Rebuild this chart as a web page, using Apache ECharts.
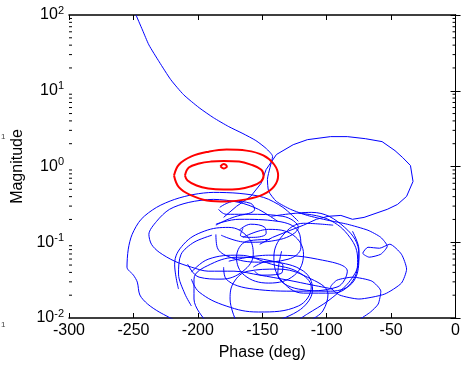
<!DOCTYPE html>
<html><head><meta charset="utf-8">
<script src="https://cdn.jsdelivr.net/npm/echarts@6/dist/echarts.min.js"></script>
<style>html,body{margin:0;padding:0;background:#fff}#c{width:463px;height:366px}</style>
</head><body><div id="c"></div>
<script>
// ---- axis definitions ----
const phaseMin = -300, phaseMax = 0, phaseStep = 50;
const magMin = 0.01, magMax = 100;
const magMinorTicks = [0.02,0.03,0.04,0.05,0.06,0.07,0.08,0.09,
  0.2,0.3,0.4,0.5,0.6,0.7,0.8,0.9, 2,3,4,5,6,7,8,9, 20,30,40,50,60,70,80,90];

// ---- red closed-loop contours [phase deg, magnitude] ----
const redOuter = [[-218.5,0.762],[-214.6,1.062],[-205,1.36],[-191.5,1.57],[-177.7,1.674],[-162.3,1.62],
  [-149.2,1.40],[-140.8,1.062],[-137.7,0.762],[-140.8,0.546],[-149.2,0.428],[-162.3,0.368],
  [-177.7,0.346],[-193,0.357],[-205,0.415],[-214.6,0.530],[-218.5,0.762]];
const redInner = [[-210,0.762],[-207,0.970],[-199,1.094],[-190,1.16],[-180,1.18],[-168,1.16],
  [-159,1.06],[-151,0.913],[-149,0.762],[-151,0.635],[-159,0.546],[-168,0.506],[-180,0.498],
  [-192,0.514],[-201,0.562],[-208,0.655],[-210,0.762]];
const redCenter = [[-182.5,1.003],[-180,1.082],[-177.5,1.003],[-180,0.942],[-182.5,1.003]];

// ---- blue open-loop response, read segment by segment ----
const blueTop = [[-248,100],[-243,63.5],[-238,40.3],[-230,24.1],[-221,14.0],[-211,8.85],[-199,5.97],
  [-188,4.42],[-176,3.36],[-165,2.72],[-155,2.20],[-147,1.73],[-142,1.36],[-144,0.97],[-146,0.675],
  [-145,0.469],[-139,0.346],[-128,0.272],[-115,0.226],[-99,0.195],[-84,0.173],[-68,0.144],[-58,0.116],
  [-53,0.0886],[-58,0.0695],[-67,0.0635],[-72,0.0716],[-68,0.0859],[-59,0.0834],[-51,0.0942],
  [-42,0.0695],[-38,0.0442],[-42,0.0289],[-55,0.0207],[-75,0.0178],[-90,0.0201],[-97,0.0256],
  [-92,0.0316],[-80,0.0346],[-65,0.0307],[-58,0.0226],[-60,0.0153],[-66,0.0120],[-74,0.0097]];
const blueArc = [[-180,0.213],[-170,0.298],[-159,0.403],[-151,0.597],[-147,0.913],[-139,1.44],
  [-126,1.94],[-115,2.26],[-97,2.48],[-84,2.48],[-70,2.33],[-57,2.13],[-47,1.62],[-41,1.31],
  [-35,1.03],[-33,0.635],[-38,0.403],[-45,0.316],[-53,0.272],[-71,0.213],[-80,0.201],[-89,0.226],
  [-99,0.22],[-108,0.201],[-118,0.168],[-130,0.140],[-142,0.116],[-152,0.094]];
const blueOuterLeft = [[-122,0.189],[-134,0.289],[-149,0.391],[-168,0.442],[-188,0.455],[-203,0.428],
  [-218,0.368],[-232,0.289],[-244,0.201],[-251,0.127],[-254,0.081],[-255,0.0469],[-250,0.0368],
  [-247,0.0298],[-245,0.0201],[-239,0.0153],[-230,0.0120],[-218,0.0094]];
const blueInnerLeft = [[-138,0.189],[-153,0.272],[-168,0.336],[-188,0.368],[-207,0.336],[-222,0.272],
  [-232,0.189],[-238,0.127],[-236,0.094],[-230,0.0738],[-218,0.0562],[-205,0.0469],[-192,0.0415],
  [-172,0.0415],[-152,0.0368],[-130,0.0316],[-111,0.0272],[-95,0.0241]];
const blueLoop1 = [[-122,0.241],[-99,0.201],[-82,0.116],[-76,0.0597],[-80,0.0307],[-95,0.0213],
  [-118,0.0213],[-136,0.0326],[-141,0.0635],[-134,0.124],[-118,0.178],[-95,0.168]];
const blueLoop2 = [[-165,0.116],[-145,0.148],[-126,0.124],[-118,0.0695],[-125,0.0368],[-145,0.0289],
  [-164,0.0368],[-170,0.0635],[-162,0.103],[-144,0.109]];
const blueLoop3 = [[-195,0.0097],[-203,0.0178],[-203,0.0326],[-190,0.0514],[-168,0.0635],[-142,0.0562],
  [-118,0.0415],[-111,0.0241],[-118,0.0140],[-135,0.0097]];
const blueLoop4 = [[-215,0.0241],[-218,0.0514],[-211,0.0942],[-195,0.140],[-176,0.157],[-161,0.116],
  [-157,0.0695],[-165,0.0415],[-182,0.0326],[-199,0.0346],[-208,0.0514]];
const blueLoop5 = [[-168,0.144],[-159,0.173],[-148,0.157],[-147,0.131],[-157,0.116],[-167,0.124],[-165,0.153]];
const blueLoop6 = [[-183,0.289],[-172,0.346],[-159,0.326],[-156,0.272],[-165,0.234],[-178,0.234],[-184,0.272]];
const blueLoop7 = [[-186,0.168],[-161,0.234],[-134,0.220],[-122,0.157],[-136,0.109],[-162,0.100],[-182,0.124]];
const blueLoop8 = [[-176,0.0562],[-145,0.0675],[-107,0.0597],[-84,0.0415],[-92,0.0256],[-122,0.0226],
  [-157,0.0241],[-178,0.0326],[-180,0.0469]];
const blueLoop9 = [[-157,0.0469],[-145,0.0562],[-134,0.0498],[-135,0.0391],[-151,0.0368],[-156,0.0415]];
const blueLoop10 = [[-186,0.173],[-168,0.201],[-138,0.189],[-122,0.140],[-120,0.0859],[-130,0.0597],
  [-153,0.0546],[-175,0.0635],[-185,0.0859],[-186,0.127]];
const blueLoop11 = [[-143,0.220],[-112,0.248],[-86,0.157],[-75,0.0695],[-79,0.0307],[-97,0.0226],
  [-122,0.0241],[-138,0.038],[-135,0.0762]];
const blueLoop12 = [[-205,0.0403],[-192,0.0597],[-168,0.0675],[-143,0.0514],[-122,0.0403],[-112,0.0256],
  [-122,0.0144],[-153,0.0120],[-178,0.0144],[-199,0.022],[-205,0.0326]];
const blueLoop13 = [[-171,0.0097],[-175,0.0178],[-172,0.0298],[-161,0.0415],[-138,0.0442],[-115,0.0346],
  [-99,0.0207],[-103,0.0124],[-111,0.0097]];
const blueTailRight = [[-80,0.140],[-75,0.081],[-76,0.0469],[-84,0.028],[-99,0.0168],[-115,0.0113],[-121,0.0097]];
const blueTailLeft = [[-189,0.124],[-203,0.100],[-213,0.0695],[-215,0.038],[-210,0.0207],[-205,0.0144]];

const blueSegments = [
  {d: blueTop, s: 0.2}, {d: blueArc, s: false}, {d: blueOuterLeft, s: 0.3}, {d: blueInnerLeft, s: 0.3},
  {d: blueLoop1, s: 0.4}, {d: blueLoop2, s: 0.4}, {d: blueLoop3, s: 0.4}, {d: blueLoop4, s: 0.4},
  {d: blueLoop5, s: 0.4}, {d: blueLoop6, s: 0.4}, {d: blueLoop7, s: 0.4}, {d: blueLoop8, s: 0.4},
  {d: blueLoop9, s: 0.4}, {d: blueLoop10, s: 0.4}, {d: blueLoop11, s: 0.4}, {d: blueLoop12, s: 0.4},
  {d: blueLoop13, s: 0.4}, {d: blueTailRight, s: 0.3}, {d: blueTailLeft, s: 0.3}
];

const FONT = 'Liberation Sans, Arial, sans-serif';
const chart = echarts.init(document.getElementById('c'), null, {renderer: 'canvas'});

const series = [];
blueSegments.forEach(seg => series.push({
  type: 'line', data: seg.d, smooth: seg.s, showSymbol: false, symbol: 'none',
  lineStyle: {color: '#0000ff', width: 1}, z: 3, silent: true, clip: true
}));
[redOuter, redInner, redCenter].forEach(d => series.push({
  type: 'line', data: d, smooth: 0.4, showSymbol: false, symbol: 'none',
  lineStyle: {color: '#ff0000', width: 2}, z: 4, silent: true, clip: true
}));
series.push({
  type: 'custom', silent: true, clip: false, z: 5,
  data: magMinorTicks.map(v => [phaseMin, v]),
  renderItem: (params, api) => {
    const v = api.value(1);
    const l = api.coord([phaseMin, v]);
    const r = api.coord([phaseMax, v]);
    return {type: 'group', children: [
      {type: 'line', shape: {x1: l[0], y1: l[1], x2: l[0] + 3, y2: l[1]}, style: {stroke: '#000', lineWidth: 1}},
      {type: 'line', shape: {x1: r[0], y1: r[1], x2: r[0] - 3, y2: r[1]}, style: {stroke: '#000', lineWidth: 1}}
    ]};
  }
});

const axisLineX = {show: true, lineStyle: {color: '#000', width: 1.5}};
const axisLineY = {show: true, lineStyle: {color: '#000', width: 1}};
const tick = {show: true, inside: true, length: 5, lineStyle: {color: '#000', width: 1}};

chart.setOption({
  animation: false,
  backgroundColor: '#fff',
  grid: {left: 69, right: 4, top: 15, bottom: 47, containLabel: false},
  xAxis: [{
    type: 'value', min: phaseMin, max: phaseMax, interval: phaseStep, position: 'bottom',
    name: 'Phase (deg)', nameLocation: 'middle', nameGap: 27,
    nameTextStyle: {fontFamily: FONT, fontSize: 16, color: '#000'},
    axisLine: axisLineX, axisTick: tick, splitLine: {show: false},
    axisLabel: {fontFamily: FONT, fontSize: 16, color: '#000', margin: 5}
  }, {
    type: 'value', min: phaseMin, max: phaseMax, interval: phaseStep, position: 'top',
    axisLine: axisLineX, axisTick: tick, splitLine: {show: false}, axisLabel: {show: false}
  }],
  yAxis: [{
    type: 'log', logBase: 10, min: magMin, max: magMax, position: 'left',
    name: 'Magnitude', nameLocation: 'middle', nameGap: 41,
    nameTextStyle: {fontFamily: FONT, fontSize: 16, color: '#000'},
    axisLine: axisLineY, axisTick: tick, splitLine: {show: false},
    axisLabel: {
      margin: 5, fontFamily: FONT, color: '#000',
      formatter: v => '{b|10}{s|' + Math.round(Math.log10(v)) + '}',
      rich: {
        b: {fontFamily: FONT, fontSize: 16, color: '#000'},
        s: {fontFamily: FONT, fontSize: 11, color: '#000', padding: [0, 0, 9, 0]}
      }
    }
  }, {
    type: 'log', logBase: 10, min: magMin, max: magMax, position: 'right',
    axisLine: axisLineY, axisTick: tick, splitLine: {show: false}, axisLabel: {show: false}
  }],
  graphic: [
    {type: 'text', left: 1, top: 133, style: {text: '1', fontSize: 8, fontFamily: FONT, fill: '#444'}},
    {type: 'text', left: 1, top: 321, style: {text: '1', fontSize: 8, fontFamily: FONT, fill: '#444'}}
  ],
  series
});
</script></body></html>
